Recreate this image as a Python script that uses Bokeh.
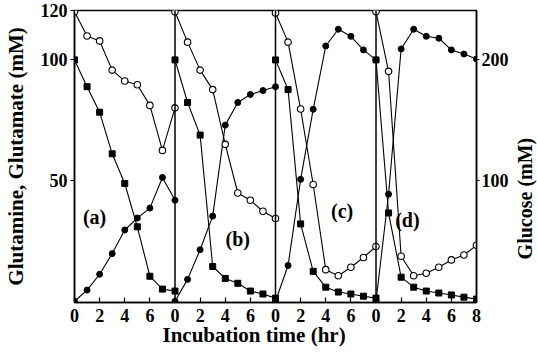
import math
from bokeh.plotting import figure
from bokeh.layouts import row
from bokeh.models import Range1d, LinearAxis, FixedTicker, Span, Title
from bokeh.embed import file_html
from bokeh.resources import INLINE
from bokeh.core.properties import value

# ---- data ----
hours = [0, 1, 2, 3, 4, 5, 6, 7, 8]
panel_names = ["(a)", "(b)", "(c)", "(d)"]
panel_hours = 8
x_tick_hours = [0, 2, 4, 6]

# Glucose (mM, right axis) - open circles
glucose_a = [239, 219, 215, 191, 182, 179, 162, 125, 160]
glucose_b = [239, 214, 191, 175, 130, 90, 84, 75, 69]
glucose_c = [238, 214, 159, 97, 27, 22, 29, 37, 46]
glucose_d = [239, 190, 38, 22, 24, 29, 35, 39, 47]

# Glutamine (mM, left axis) - filled squares
glutamine_a = [99.7, 88.7, 78.2, 61.1, 48.9, 31.1, 10.8, 5.5, 4.7]
glutamine_b = [99.7, 82.2, 68.8, 14.8, 9.9, 7.9, 4.7, 3.5, 1.8]
glutamine_c = [99.7, 87.5, 32.3, 12.8, 6.3, 4.3, 3.5, 2.6, 1.8]
glutamine_d = [99.7, 36.8, 10.4, 6.3, 4.7, 3.9, 3.1, 2.2, 1.4]

# Glutamate (mM, left axis) - filled circles
glutamate_a = [0.5, 5.1, 11.6, 20.1, 29.8, 34.7, 38.8, 51.4, 42.0]
glutamate_b = [0.5, 9.5, 21.7, 35.5, 72.9, 82.2, 85.5, 87.1, 88.7]
glutamate_c = [0.5, 15.2, 50.6, 79.4, 105.4, 112.3, 109.4, 103.8, 99.7]
glutamate_d = [0.5, 44.5, 104.2, 112.3, 109.4, 108.6, 103.8, 102.1, 100.1]

left_ticks = [50, 100, 120]
right_ticks = [100, 200]
left_max = 120
right_max = 240

x_title = "Incubation time (hr)"
left_title = "Glutamine, Glutamate (mM)"
right_title = "Glucose (mM)"

glucose = [glucose_a, glucose_b, glucose_c, glucose_d]
glutamine = [glutamine_a, glutamine_b, glutamine_c, glutamine_d]
glutamate = [glutamate_a, glutamate_b, glutamate_c, glutamate_d]

FONT = "Liberation Serif"
n_panels = len(panel_names)
MAIN_W, SIDE_W, H = 511, 26, 354

p = figure(width=MAIN_W, height=H, output_backend="svg", toolbar_location=None,
           x_range=Range1d(0, n_panels * panel_hours), y_range=Range1d(0, left_max),
           min_border_left=68, min_border_right=32, min_border_top=10, min_border_bottom=52)
p.extra_y_ranges = {"glc": Range1d(0, right_max)}
p.grid.visible = False
p.outline_line_color = "black"
p.outline_line_width = 1.5
p.background_fill_color = "white"
p.border_fill_color = "white"

for i in range(n_panels):
    xs = [h + i * panel_hours for h in hours]
    p.line(xs, glutamine[i], line_color="black", line_width=1.1)
    p.line(xs, glutamate[i], line_color="black", line_width=1.1)
    p.line(xs, glucose[i], line_color="black", line_width=1.1, y_range_name="glc")
    p.scatter(xs, glutamine[i], marker="square", size=6, fill_color="black", line_color="black")
    p.scatter(xs, glutamate[i], marker="circle", size=6, fill_color="black", line_color="black")
    p.scatter(xs, glucose[i], marker="circle", size=6.5, fill_color="white", line_color="black",
              line_width=1.1, y_range_name="glc")
    if i > 0:
        p.add_layout(Span(location=i * panel_hours, dimension="height",
                          line_color="black", line_width=1.5))

# panel letters (local hour, mM)
label_pos = [(1.6, 35.0), (5.0, 26.0), (5.3, 37.5), (2.5, 34.0)]
p.text(x=[lp[0] + i * panel_hours for i, lp in enumerate(label_pos)],
       y=[lp[1] for lp in label_pos], text=panel_names,
       text_font=value(FONT), text_font_style="bold", text_font_size="20px",
       text_align="center", text_baseline="middle", text_color="black")

# x axis
xt = [i * panel_hours + h for i in range(n_panels) for h in x_tick_hours] + [n_panels * panel_hours]
overrides = {}
for i in range(n_panels):
    for h in x_tick_hours:
        overrides[i * panel_hours + h] = str(h)
overrides[n_panels * panel_hours] = str(panel_hours)
xa = p.xaxis[0]
xa.ticker = FixedTicker(ticks=xt)
xa.major_label_overrides = overrides
xa.minor_tick_line_color = None
xa.major_tick_in = 5
xa.major_tick_out = 0

ya = p.yaxis[0]
ya.ticker = FixedTicker(ticks=left_ticks)
ya.minor_tick_line_color = None
ya.major_tick_in = 0
ya.major_tick_out = 4
ya.axis_label = left_title

ra = LinearAxis(y_range_name="glc", ticker=FixedTicker(ticks=right_ticks))
ra.minor_tick_line_color = None
ra.major_tick_in = 0
ra.major_tick_out = 3
p.add_layout(ra, "right")

for ax in [xa, ya, ra]:
    ax.axis_line_color = "black"
    ax.axis_line_width = 1.5
    ax.major_tick_line_width = 1.2
    ax.major_label_text_font = FONT
    ax.major_label_text_font_style = "bold"
    ax.major_label_text_font_size = "18px"
    ax.major_label_text_color = "black"
    ax.axis_label_text_font = FONT
    ax.axis_label_text_font_style = "bold"
    ax.axis_label_text_font_size = "21px"
    ax.axis_label_text_color = "black"
xa.major_label_standoff = 6
ya.major_label_standoff = 3
ya.axis_label_standoff = 10
ra.major_label_standoff = 2

# x-axis title, sitting left of centre as in the reference
p.add_layout(Title(text=x_title, align="left", offset=88, standoff=-8,
                   text_font=FONT, text_font_style="bold", text_font_size="21px",
                   text_color="black"), "below")

# right-hand title strip (reads bottom-to-top, like the reference)
side = figure(width=SIDE_W, height=H, output_backend="svg", toolbar_location=None,
              x_range=Range1d(0, SIDE_W), y_range=Range1d(0, H),
              x_axis_location=None, y_axis_location=None,
              min_border=0, min_border_left=0, min_border_right=0,
              min_border_top=0, min_border_bottom=0)
side.grid.visible = False
side.outline_line_color = None
side.background_fill_color = "white"
side.border_fill_color = "white"
side.text(x=[13], y=[H - 228], text=[right_title], angle=math.pi / 2,
          text_font=value(FONT), text_font_style="bold", text_font_size="20px",
          text_align="center", text_baseline="middle", text_color="black")

layout = row(p, side, spacing=0)
open("out.html", "w").write(file_html(layout, INLINE))
